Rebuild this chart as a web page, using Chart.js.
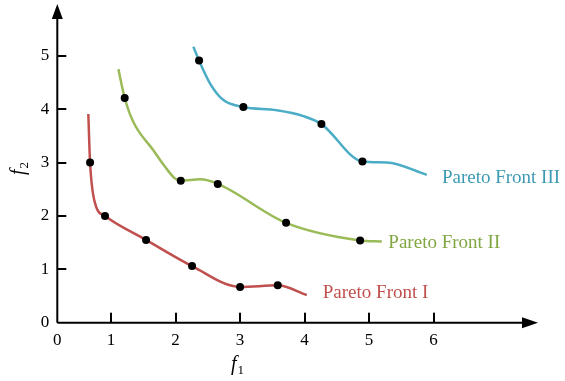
<!DOCTYPE html>
<html>
<head>
<meta charset="utf-8">
<script src="https://cdn.jsdelivr.net/npm/chart.js@4.4.1/dist/chart.umd.min.js"></script>
<style>
  html, body { margin: 0; padding: 0; background: #fff; }
  #wrap { width: 565px; height: 381px; }
</style>
</head>
<body>
<div id="wrap"><canvas id="chart"></canvas></div>
<script>
// --- Data ---
const xMin = 0.167, xMax = 7.62;
const yMin = 0, yMax = 5.97;
const xTicks = [0.167, 1, 2, 3, 4, 5, 6];
const xTickLabels = ['0', '1', '2', '3', '4', '5', '6'];
const yTicks = [0, 1, 2, 3, 4, 5];

// traced curves (ends included)
const front1X = [0.648, 0.675, 0.752, 0.907, 1.543, 2.256, 3.001, 3.585, 4.035];
const front1Y = [3.91, 3.00, 2.24, 2.00, 1.55, 1.06, 0.67, 0.70, 0.52];
const front2X = [1.114, 1.212, 1.346, 1.656, 1.838, 1.993, 2.081, 2.381, 2.655, 3.714, 4.862, 5.198];
const front2Y = [4.75, 4.21, 3.76, 3.23, 2.92, 2.70, 2.66, 2.685, 2.60, 1.87, 1.54, 1.52];
const front3X = [2.277, 2.365, 2.536, 2.742, 3.052, 3.570, 3.983, 4.262, 4.898, 5.276, 5.896];
const front3Y = [5.17, 4.91, 4.48, 4.17, 4.04, 3.98, 3.87, 3.72, 3.02, 3.00, 2.77];

// black markers
const dots1X = [0.675, 0.907, 1.543, 2.256, 3.001, 3.585];
const dots1Y = [3.00, 2.00, 1.55, 1.06, 0.67, 0.70];
const dots2X = [1.212, 2.081, 2.655, 3.714, 4.862];
const dots2Y = [4.21, 2.66, 2.60, 1.87, 1.54];
const dots3X = [2.365, 3.052, 4.262, 4.898];
const dots3Y = [4.91, 4.04, 3.72, 3.02];

const frontNames = ['Pareto Front I', 'Pareto Front II', 'Pareto Front III'];
const labelX = [4.283, 5.30, 6.13];
const labelY = [0.55, 1.49, 2.71];

const lineColors = ['#c0504d', '#9bbb59', '#4bacc6'];
const textColors = ['#c0504d', '#82a642', '#3d9ab3'];

const serif = '"Liberation Serif", "Times New Roman", serif';
Chart.defaults.font.family = serif;
Chart.defaults.font.size = 17;
Chart.defaults.color = '#000';

const toPts = (xs, ys) => xs.map((x, i) => ({ x, y: ys[i] }));

const curveSet = (xs, ys, color) => ({
    data: toPts(xs, ys),
    borderColor: color,
    borderWidth: 2.5,
    pointRadius: 0,
    cubicInterpolationMode: 'monotone',
    fill: false,
    order: 2
});
const dotSet = (xs, ys) => ({
    data: toPts(xs, ys),
    showLine: false,
    pointRadius: 4,
    pointBackgroundColor: '#000',
    pointBorderWidth: 0,
    order: 1
});

const noPad = (scale) => {
    scale.paddingTop = 0;
    scale.paddingBottom = 0;
    scale.paddingLeft = 0;
    scale.paddingRight = 0;
};

// --- Axes, arrows, tick marks, titles, front labels ---
const axesPlugin = {
    id: 'axesPlugin',
    afterDraw(chart) {
        const { ctx, chartArea, scales } = chart;
        const x0 = chartArea.left, y0 = scales.y.getPixelForValue(0);
        ctx.save();
        ctx.strokeStyle = '#000';
        ctx.fillStyle = '#000';
        ctx.lineWidth = 2;
        ctx.beginPath();
        ctx.moveTo(x0, y0);
        ctx.lineTo(chartArea.right - 12, y0);
        ctx.moveTo(x0, y0);
        ctx.lineTo(x0, chartArea.top + 12);
        ctx.stroke();
        // arrow heads
        ctx.beginPath();
        ctx.moveTo(chartArea.right, y0);
        ctx.lineTo(chartArea.right - 16, y0 - 5.5);
        ctx.lineTo(chartArea.right - 16, y0 + 5.5);
        ctx.closePath();
        ctx.fill();
        ctx.beginPath();
        ctx.moveTo(x0, chartArea.top);
        ctx.lineTo(x0 - 5.5, chartArea.top + 15);
        ctx.lineTo(x0 + 5.5, chartArea.top + 15);
        ctx.closePath();
        ctx.fill();
        // tick marks, pointing inward
        xTicks.slice(1).forEach(v => {
            const px = Math.round(scales.x.getPixelForValue(v));
            ctx.fillRect(px - 1, y0 - 10, 2, 10);
        });
        yTicks.slice(1).forEach(v => {
            const py = Math.round(scales.y.getPixelForValue(v));
            ctx.fillRect(x0, py - 1, 9, 2);
        });

        // front labels
        ctx.font = '19px ' + serif;
        ctx.textAlign = 'left';
        ctx.textBaseline = 'middle';
        frontNames.forEach((name, i) => {
            ctx.fillStyle = textColors[i];
            ctx.fillText(name, scales.x.getPixelForValue(labelX[i]), scales.y.getPixelForValue(labelY[i]));
        });
        // axis titles f1, f2
        const fTitle = (x, y, sub, rotate) => {
            ctx.save();
            ctx.translate(x, y);
            if (rotate) ctx.rotate(-Math.PI / 2);
            ctx.fillStyle = '#000';
            ctx.textAlign = 'left';
            ctx.textBaseline = 'alphabetic';
            ctx.font = 'italic 20px ' + serif;
            ctx.fillText('f', 0, 0);
            const w = ctx.measureText('f').width;
            ctx.font = '13px ' + serif;
            ctx.fillText(sub, w + 1, 4);
            ctx.restore();
        };
        fTitle(231, 370, '1', false);
        fTitle(24, 175, '2', true);
        ctx.restore();
    }
};

new Chart(document.getElementById('chart'), {
    type: 'line',
    data: {
        datasets: [
            dotSet(dots1X, dots1Y),
            dotSet(dots2X, dots2Y),
            dotSet(dots3X, dots3Y),
            curveSet(front1X, front1Y, lineColors[0]),
            curveSet(front2X, front2Y, lineColors[1]),
            curveSet(front3X, front3Y, lineColors[2])
        ]
    },
    options: {
        responsive: true,
        maintainAspectRatio: false,
        animation: false,
        layout: { padding: { top: 4, right: 27, left: 0, bottom: 0 } },
        plugins: { legend: { display: false }, tooltip: { enabled: false } },
        scales: {
            x: {
                type: 'linear',
                min: xMin,
                max: xMax,
                grid: { display: false, drawTicks: false },
                border: { display: false },
                afterBuildTicks: (scale) => { scale.ticks = xTicks.map(v => ({ value: v })); },
                afterFit: (scale) => { scale.height = 58.3; noPad(scale); },
                ticks: {
                    color: '#000',
                    padding: 8,
                    maxRotation: 0,
                    autoSkip: false,
                    font: { family: serif, size: 17 },
                    callback: (value, index) => xTickLabels[index]
                }
            },
            y: {
                type: 'linear',
                min: yMin,
                max: yMax,
                grid: { display: false, drawTicks: false },
                border: { display: false },
                afterBuildTicks: (scale) => { scale.ticks = yTicks.map(v => ({ value: v })); },
                afterFit: (scale) => { scale.width = 57.3; noPad(scale); },
                ticks: {
                    color: '#000',
                    padding: 8,
                    autoSkip: false,
                    font: { family: serif, size: 17 },
                    callback: (value) => String(value)
                }
            }
        }
    },
    plugins: [axesPlugin]
});
</script>
</body>
</html>
